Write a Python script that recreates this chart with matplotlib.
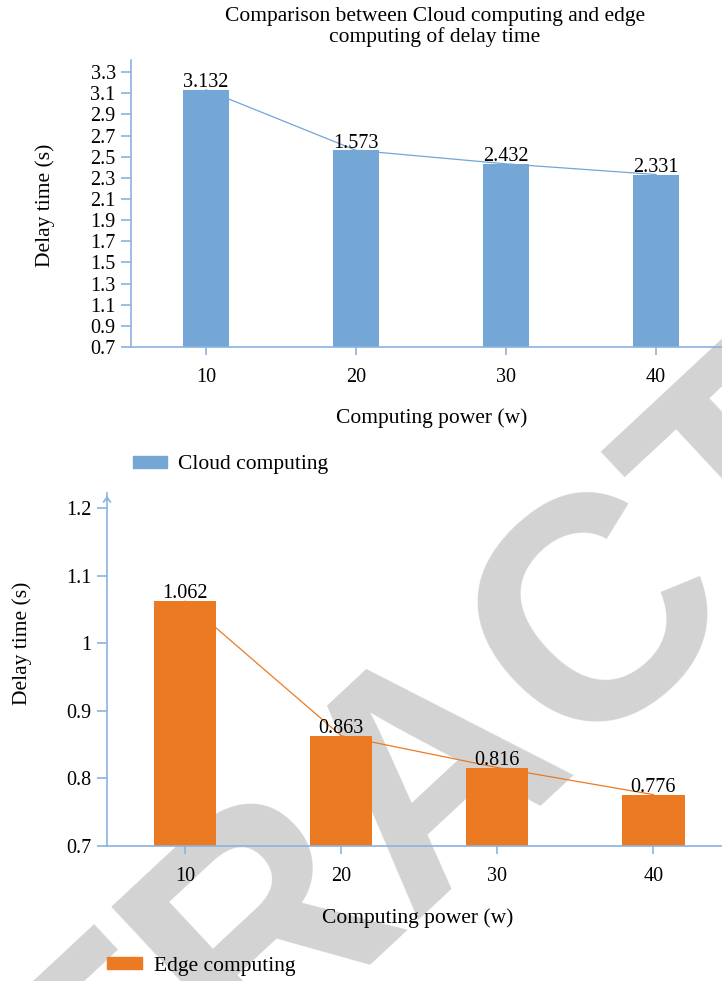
import matplotlib
matplotlib.use("Agg")
import matplotlib.pyplot as plt
from matplotlib.patches import Patch

plt.rcParams['font.family'] = ['Liberation Serif', 'DejaVu Serif']

power = [10, 20, 30, 40]

cloud_delay = [3.132, 2.56, 2.432, 2.331]
cloud_labels = ["3.132", "1.573", "2.432", "2.331"]
cloud_yticks = [0.7, 0.9, 1.1, 1.3, 1.5, 1.7, 1.9, 2.1, 2.3, 2.5, 2.7, 2.9, 3.1, 3.3]
cloud_yticklabels = ["0.7", "0.9", "1.1", "1.3", "1.5", "1.7", "1.9", "2.1", "2.3", "2.5", "2.7", "2.9", "3.1", "3.3"]

edge_delay = [1.062, 0.863, 0.816, 0.776]
edge_labels = ["1.062", "0.863", "0.816", "0.776"]
edge_yticks = [0.7, 0.8, 0.9, 1.0, 1.1, 1.2]
edge_yticklabels = ["0.7", "0.8", "0.9", "1", "1.1", "1.2"]

title = "Comparison between Cloud computing and edge\ncomputing of delay time"
x_label = "Computing power (w)"
y_label = "Delay time (s)"

BLUE = "#74a6d6"
ORANGE = "#ec7a23"
AXIS = "#8ab3e0"
FS = 14.5      # ticks and value labels
FS_LAB = 15.5  # title, axis labels, legend

W, H = 722, 981

def setup_axis(ax, ylim, yticks, yticklabels):
	ax.set_facecolor('none')
	for side in ['top', 'right']:
		ax.spines[side].set_visible(False)
	for side in ['left', 'bottom']:
		ax.spines[side].set_color(AXIS)
		ax.spines[side].set_linewidth(1.2)
	ax.set_xlim(5, 44.4)
	ax.set_ylim(*ylim)
	ax.set_xticks(power)
	ax.set_xticklabels([str(p) for p in power], fontsize=FS)
	ax.set_yticks(yticks)
	ax.set_yticklabels(yticklabels, fontsize=FS)
	ax.tick_params(axis='y', direction='out', length=7, width=1.2, color=AXIS, pad=4)
	ax.tick_params(axis='x', direction='out', length=6, width=1.2, color=AXIS, pad=9)

def plot_panel(ax, values, labels, color, bar_width):
	ax.bar(power, values, width=bar_width, color=color, zorder=2)
	ax.plot(power, values, color=color, lw=0.9, zorder=3)
	for x, v, lab in zip(power, values, labels):
		ax.annotate(lab, (x, v), xytext=(0, 2), textcoords='offset points',
					ha='center', va='baseline', fontsize=FS, zorder=4)

def set_labels(ax, x_pos, y_pos):
	ax.set_xlabel(x_label, fontsize=FS_LAB, va='center')
	ax.xaxis.set_label_coords(*x_pos)
	ax.set_ylabel(y_label, fontsize=FS_LAB, va='center')
	ax.yaxis.set_label_coords(*y_pos)

fig = plt.figure(figsize=(W / 100, H / 100), dpi=100)

# watermark behind both charts
fig.text(492 / W, 1 - 832 / H, "RETRACTED", fontsize=228, fontweight='bold',
		 family='Liberation Sans', color='#d3d3d3', rotation=43, rotation_mode='anchor',
		 ha='center', va='baseline', zorder=-1)

ax1 = fig.add_axes([131 / W, 1 - 347 / H, 1 - 131 / W, (347 - 60) / H])
setup_axis(ax1, (0.7, 3.414), cloud_yticks, cloud_yticklabels)
plot_panel(ax1, cloud_delay, cloud_labels, BLUE, 3.05)
set_labels(ax1, ((432 - 131) / (W - 131), (347 - 418) / 287),
		   ((45 - 131) / (W - 131), 0.495))

ax2 = fig.add_axes([107 / W, 1 - 846 / H, 1 - 107 / W, (846 - 493) / H])
setup_axis(ax2, (0.7, 1.222), edge_yticks, edge_yticklabels)
plot_panel(ax2, edge_delay, edge_labels, ORANGE, 4.0)
ax2.annotate('', xy=(0, 1.0), xytext=(0, 0.97), xycoords='axes fraction',
			 arrowprops=dict(arrowstyle='->,head_length=0.35,head_width=0.25', color=AXIS, lw=1.2))
set_labels(ax2, ((418 - 107) / (W - 107), (846 - 918) / 353),
		   ((22 - 107) / (W - 107), 0.575))

fig.text(435 / W, 1 - 27 / H, title, fontsize=FS_LAB, ha='center', va='center', linespacing=1.1)

fs_px = FS_LAB * 100 / 72
fig.legend(handles=[Patch(color=BLUE, label="Cloud computing")], frameon=False,
		   loc='center left', bbox_to_anchor=(133 / W, 1 - 465 / H), borderaxespad=0, borderpad=0,
		   handlelength=34 / fs_px, handleheight=10 / fs_px, handletextpad=11 / fs_px, fontsize=FS_LAB)
fig.legend(handles=[Patch(color=ORANGE, label="Edge computing")], frameon=False,
		   loc='center left', bbox_to_anchor=(107 / W, 1 - 966 / H), borderaxespad=0, borderpad=0,
		   handlelength=35 / fs_px, handleheight=10 / fs_px, handletextpad=12 / fs_px, fontsize=FS_LAB)

fig.savefig("out.png", dpi=100)
